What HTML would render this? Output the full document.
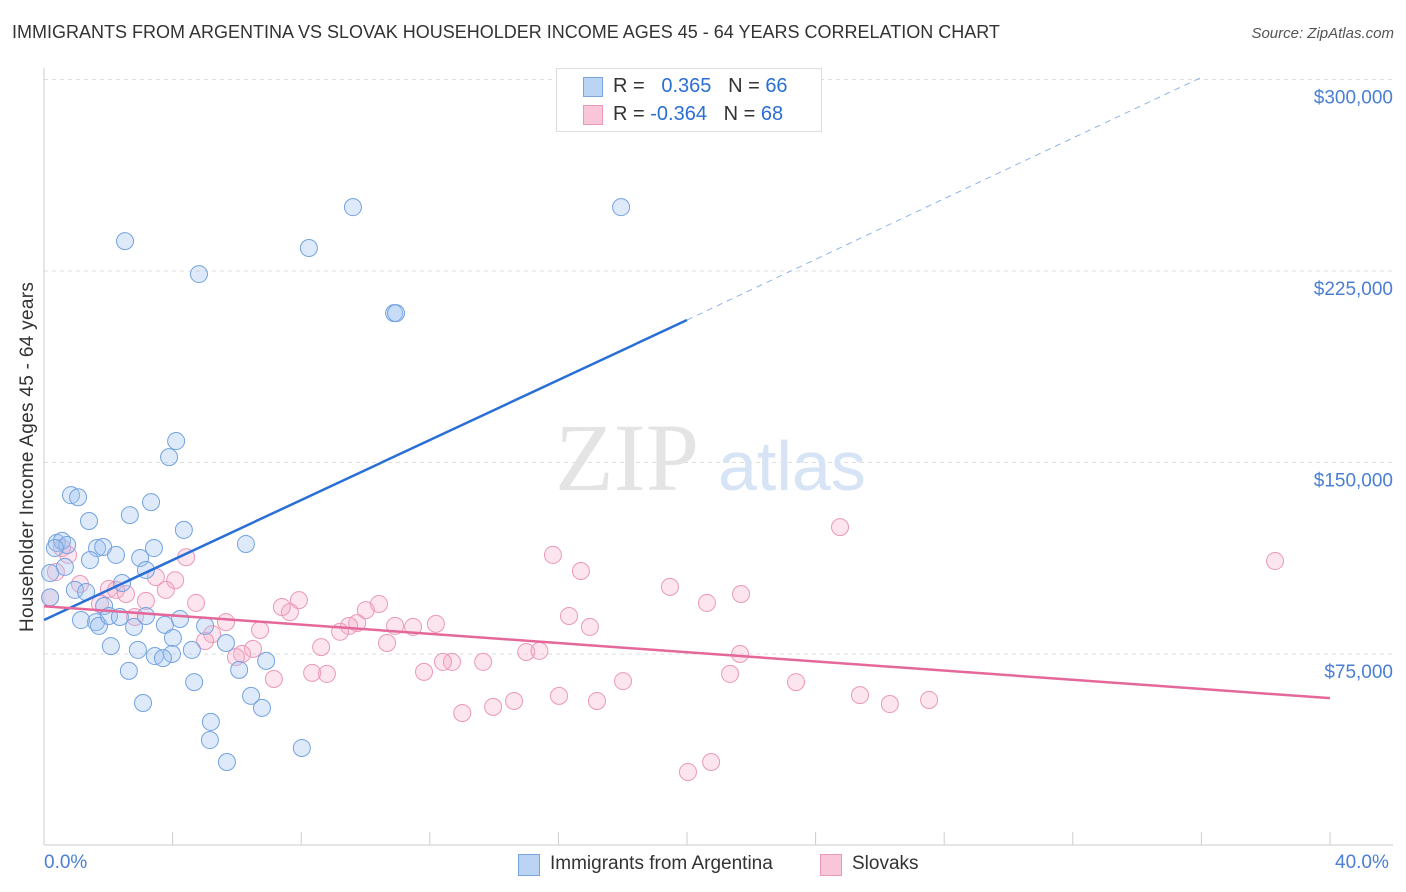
<!DOCTYPE html>
<html><head><meta charset="utf-8">
<style>
body{margin:0;background:#fff;font-family:"Liberation Sans",sans-serif;}
#wrap{position:relative;width:1406px;height:892px;overflow:hidden;}
.t{position:absolute;white-space:nowrap;}
</style></head>
<body>
<div id="wrap">
<div class="t" style="left:12px;top:22px;font-size:18px;color:#333;">IMMIGRANTS FROM ARGENTINA VS SLOVAK HOUSEHOLDER INCOME AGES 45 - 64 YEARS CORRELATION CHART</div>
<div class="t" style="right:12px;top:25px;font-size:15px;color:#555;font-style:italic;">Source: ZipAtlas.com</div>
<svg id="svg" width="1406" height="892" style="position:absolute;left:0;top:0"></svg>
</div>
<script>
const blueX=[2.52,4.82,8.24,9.61,17.95,10.89,4.11,3.89,0.84,1.06,3.33,1.40,2.67,4.35,0.40,0.56,0.72,0.34,1.65,1.84,3.42,6.28,2.24,2.99,1.43,0.65,0.19,3.17,2.43,0.96,1.31,1.87,1.15,1.62,1.71,2.02,2.36,2.80,3.76,3.17,4.23,5.01,4.01,5.66,2.08,2.92,4.60,3.98,3.45,3.70,6.91,2.64,6.07,4.67,6.44,3.08,6.78,5.19,5.16,8.02,5.69,0.19,10.95];
const blueY=[236.7,223.8,234.0,250.0,250.0,208.5,158.4,152.1,137.2,136.4,134.5,127.1,129.4,123.6,118.5,119.3,117.7,116.5,116.5,116.9,116.5,118.1,113.8,112.6,111.8,109.1,106.7,107.9,102.8,100.1,99.3,93.8,88.3,87.5,86.0,89.9,89.5,85.6,86.4,89.9,88.7,86.0,81.3,79.3,78.1,76.6,76.6,75.0,74.2,73.4,72.3,68.4,68.8,64.0,58.6,55.8,53.9,48.4,41.3,38.2,32.7,97.2,208.5];
const pinkX=[38.29,24.76,15.83,16.70,19.47,21.68,20.62,16.33,16.98,21.65,21.34,23.39,25.38,26.31,27.53,20.03,20.75,18.01,17.20,16.02,15.00,15.41,14.62,13.97,13.01,13.66,12.69,12.41,11.82,12.19,11.48,10.92,10.67,10.42,10.01,9.74,9.49,9.21,8.62,8.80,8.34,7.93,7.65,7.40,7.15,6.72,6.50,6.16,5.97,5.66,5.23,5.01,4.73,4.42,4.08,3.48,3.79,3.17,2.83,2.55,2.02,1.74,1.12,0.75,0.37,0.19,0.56,2.24];
const pinkY=[111.4,124.7,113.8,107.5,101.3,98.5,95.0,89.9,85.6,75.0,67.2,64.0,58.9,55.4,57.0,28.8,32.7,64.4,56.6,58.6,75.8,76.2,56.6,54.3,51.9,71.9,71.9,71.9,68.0,86.8,85.6,86.0,79.3,94.6,92.2,87.1,86.0,83.7,77.7,67.2,67.6,96.1,91.4,93.4,65.2,84.4,77.0,75.0,73.8,87.5,82.8,80.1,95.0,112.9,103.9,105.1,100.1,95.8,89.5,98.5,100.5,94.6,102.4,113.8,107.1,97.2,116.5,100.1];
const blueTrendX=[0,20,35.96];
const blueTrendY=[88.3,205.8,300.6];
const pinkTrendX=[0,40];
const pinkTrendY=[93.7,57.7];
const yTicks=[75,150,225,300];
const yTickLabels=["$75,000","$150,000","$225,000","$300,000"];

const NS="http://www.w3.org/2000/svg";
const svg=document.getElementById('svg');
const X=v=>44+v/40*1286;
const Y=v=>845.5-v/75*191.5;
function mk(tag,a){const e=document.createElementNS(NS,tag);for(const k in a)e.setAttribute(k,a[k]);svg.appendChild(e);return e;}

yTicks.forEach((t,i)=>{
  const g=mk('line',{x1:44,x2:1393,y1:Y(t),y2:Y(t),stroke:'#ddd','stroke-dasharray':'4,4'});
  
  
  const tx=mk('text',{x:1393,y:Y(t)+24,'text-anchor':'end','font-size':19,fill:'#4a7fd4','font-family':'Liberation Sans, sans-serif'});
  tx.textContent=yTickLabels[i];
  
  
});
let a=mk('line',{x1:44,x2:44,y1:68,y2:845,stroke:'#ccc'});

a=mk('line',{x1:44,x2:1393,y1:845,y2:845,stroke:'#ccc'});

for(let i=0;i<=10;i++){
  const t=mk('line',{x1:X(i*4),x2:X(i*4),y1:832,y2:845,stroke:'#ccc'});
  
  
}
let w=mk('text',{x:555,y:490,'font-size':96,fill:'#e4e4e4','font-family':'Liberation Serif, serif'});w.textContent='ZIP';

w=mk('text',{x:718,y:490,'font-size':70,fill:'#d6e4f6','font-family':'Liberation Sans, sans-serif'});w.textContent='atlas';


pinkX.forEach((v,i)=>{
  const c=mk('circle',{cx:X(v),cy:Y(pinkY[i]),r:8.5,fill:'rgba(244,170,200,0.3)',stroke:'#eb98b8','stroke-width':1});
  
  
});
blueX.forEach((v,i)=>{
  const c=mk('circle',{cx:X(v),cy:Y(blueY[i]),r:8.5,fill:'rgba(160,196,240,0.35)',stroke:'#73a3e0','stroke-width':1});
  
  
});
let l=mk('line',{x1:X(blueTrendX[0]),y1:Y(blueTrendY[0]),x2:X(blueTrendX[1]),y2:Y(blueTrendY[1]),stroke:'#2a6fd6','stroke-width':2.5});

l=mk('line',{x1:X(blueTrendX[1]),y1:Y(blueTrendY[1]),x2:X(blueTrendX[2]),y2:Y(blueTrendY[2]),stroke:'#8fb4e8','stroke-width':1,'stroke-dasharray':'6,5'});

l=mk('line',{x1:X(pinkTrendX[0]),y1:Y(pinkTrendY[0]),x2:X(pinkTrendX[1]),y2:Y(pinkTrendY[1]),stroke:'#e5689a','stroke-width':2.5});

</script>
<div class="t" style="left:17px;top:632px;transform:rotate(-90deg);transform-origin:0 0;font-size:19px;color:#333;letter-spacing:0.3px;">Householder Income Ages 45 - 64 years</div>
<div class="t" style="left:44px;top:852px;font-size:19px;color:#4a7fd4;">0.0%</div>
<div class="t" style="left:1335px;top:852px;font-size:19px;color:#4a7fd4;">40.0%</div>
<div style="position:absolute;left:556px;top:68px;width:264px;height:62px;border:1px solid #ddd;background:#fff;font-size:20px;color:#333;">
 <div style="position:absolute;left:26px;top:8px;width:18px;height:18px;background:#bcd4f4;border:1px solid #7aa6e0;"></div>
 <div class="t" style="left:56px;top:6px;">R = &nbsp;<span style="color:#2a6fd6">&nbsp;0.365</span> &nbsp;&nbsp;N = <span style="color:#2a6fd6">66</span></div>
 <div style="position:absolute;left:26px;top:36px;width:18px;height:18px;background:#f8c6d8;border:1px solid #eb98b8;"></div>
 <div class="t" style="left:56px;top:34px;">R = <span style="color:#2a6fd6">-0.364</span> &nbsp;&nbsp;N = <span style="color:#2a6fd6">68</span></div>
</div>
<div style="position:absolute;left:518px;top:854px;width:20px;height:20px;background:#bcd4f4;border:1px solid #7aa6e0;"></div>
<div class="t" style="left:550px;top:853px;font-size:19px;color:#333;">Immigrants from Argentina</div>
<div style="position:absolute;left:820px;top:854px;width:20px;height:20px;background:#f8c6d8;border:1px solid #eb98b8;"></div>
<div class="t" style="left:852px;top:853px;font-size:19px;color:#333;">Slovaks</div>
</body></html>
